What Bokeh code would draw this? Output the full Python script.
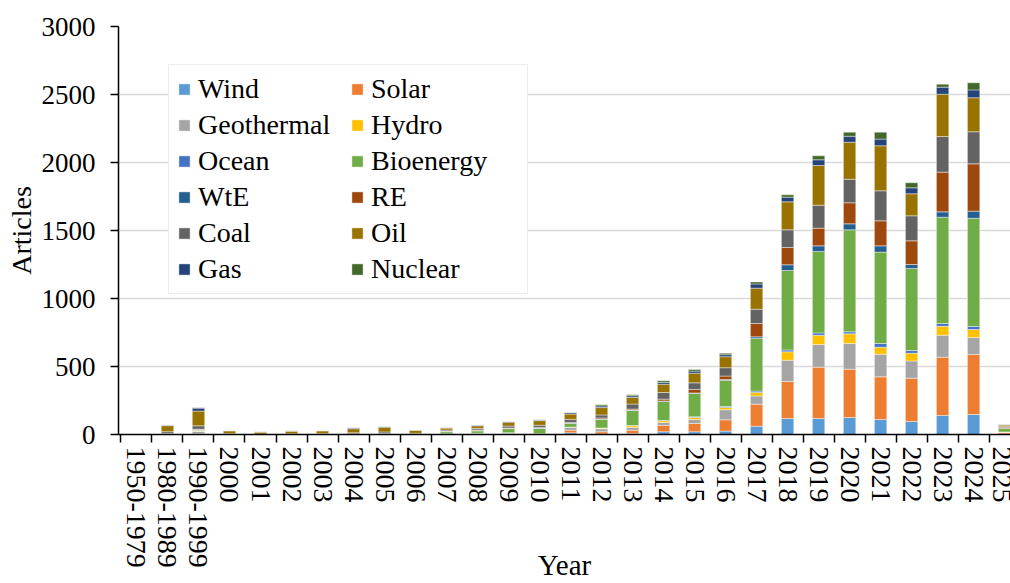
from bokeh.plotting import figure
from bokeh.models import (ColumnDataSource, Range1d, FixedTicker, Legend, LegendItem)
from bokeh.embed import file_html
from bokeh.resources import INLINE

categories = ["1950-1979", "1980-1989", "1990-1999", "2000", "2001", "2002", "2003",
              "2004", "2005", "2006", "2007", "2008", "2009", "2010", "2011", "2012",
              "2013", "2014", "2015", "2016", "2017", "2018", "2019", "2020", "2021",
              "2022", "2023", "2024", "2025"]

wind       = [0, 0, 2, 0, 0, 0, 0, 0, 0, 0, 0, 2, 2, 0, 12, 3, 7, 20, 20, 25, 61, 118, 118, 125, 110, 96, 140, 147, 4]
solar      = [0, 0, 4, 0, 0, 0, 0, 0, 1, 0, 2, 3, 6, 3, 20, 17, 25, 47, 61, 83, 162, 272, 377, 355, 314, 318, 428, 441, 10]
geothermal = [0, 3, 18, 1, 0, 1, 0, 1, 2, 0, 3, 4, 4, 3, 20, 22, 20, 22, 29, 74, 61, 156, 167, 189, 166, 127, 162, 125, 3]
hydro      = [0, 0, 3, 0, 0, 0, 0, 0, 0, 0, 0, 0, 1, 0, 2, 5, 12, 12, 15, 17, 25, 62, 68, 71, 52, 57, 66, 59, 2]
ocean      = [0, 0, 0, 0, 0, 0, 0, 0, 0, 0, 0, 0, 0, 0, 0, 1, 2, 2, 5, 7, 10, 14, 17, 15, 27, 19, 20, 22, 0]
bioenergy  = [0, 2, 6, 1, 0, 0, 1, 3, 2, 2, 15, 18, 30, 39, 29, 64, 111, 140, 172, 192, 387, 584, 599, 750, 672, 604, 782, 796, 25]
wte        = [0, 2, 3, 0, 0, 0, 1, 1, 0, 0, 2, 2, 2, 2, 2, 2, 3, 4, 4, 6, 12, 42, 41, 44, 46, 29, 39, 52, 1]
re         = [0, 0, 3, 0, 0, 0, 0, 0, 2, 1, 3, 5, 3, 4, 4, 8, 7, 13, 25, 26, 98, 127, 130, 155, 184, 174, 292, 348, 8]
coal       = [1, 14, 25, 5, 3, 5, 5, 8, 12, 6, 8, 10, 14, 17, 22, 22, 37, 49, 49, 61, 105, 130, 169, 173, 221, 184, 262, 236, 8]
oil        = [5, 44, 108, 20, 15, 19, 20, 30, 34, 22, 14, 20, 28, 34, 39, 54, 49, 61, 71, 81, 155, 206, 292, 272, 331, 162, 311, 250, 9]
gas        = [0, 4, 22, 2, 2, 2, 2, 6, 6, 3, 4, 5, 6, 4, 10, 12, 12, 13, 15, 15, 31, 34, 42, 44, 49, 44, 52, 58, 2]
nuclear    = [0, 0, 2, 0, 0, 0, 0, 0, 0, 0, 0, 0, 0, 2, 2, 8, 7, 12, 12, 11, 15, 17, 29, 30, 51, 37, 22, 52, 2]

series_names = ["Wind", "Solar", "Geothermal", "Hydro", "Ocean", "Bioenergy",
                "WtE", "RE", "Coal", "Oil", "Gas", "Nuclear"]
series_values = [wind, solar, geothermal, hydro, ocean, bioenergy, wte, re, coal, oil, gas, nuclear]
colors = ["#5B9BD5", "#ED7D31", "#A5A5A5", "#FFC000", "#4472C4", "#70AD47",
          "#255E91", "#9E480E", "#636363", "#997300", "#264478", "#43682B"]

FONT = "'Liberation Serif', 'Times New Roman', serif"

xs = list(range(len(categories)))
data = {"x": xs}
for name, vals in zip(series_names, series_values):
    data[name] = vals
source = ColumnDataSource(data)

p = figure(width=1010, height=583, output_backend="svg", toolbar_location=None,
           x_range=Range1d(-0.58, 28.19), y_range=Range1d(0, 3000),
           min_border_left=118, min_border_right=0, min_border_top=26, min_border_bottom=149)
p.outline_line_color = None
p.background_fill_color = "white"
p.border_fill_color = "white"

renderers = p.vbar_stack(series_names, x="x", width=0.4, color=colors, source=source,
                         line_color="white", line_width=0.6, line_alpha=0.7)

# y axis
p.yaxis.ticker = FixedTicker(ticks=[0, 500, 1000, 1500, 2000, 2500, 3000])
p.yaxis.axis_label = "Articles"
p.yaxis.axis_label_text_font = FONT
p.yaxis.axis_label_text_font_size = "28px"
p.yaxis.axis_label_text_font_style = "normal"
p.yaxis.axis_label_text_color = "black"
p.yaxis.axis_label_standoff = 2
p.yaxis.major_label_text_font = FONT
p.yaxis.major_label_text_font_size = "27px"
p.yaxis.major_label_text_color = "black"
p.yaxis.major_label_standoff = 15
p.yaxis.major_tick_out = 8
p.yaxis.major_tick_in = 0
p.yaxis.minor_tick_out = 0
p.yaxis.minor_tick_in = 0
p.yaxis.axis_line_color = "black"
p.yaxis.axis_line_width = 1.5
p.yaxis.major_tick_line_color = "black"
p.yaxis.major_tick_line_width = 1.5

# x axis
p.xaxis.ticker = FixedTicker(ticks=xs, minor_ticks=[i - 0.5 for i in range(len(categories) + 1)])
p.xaxis.major_label_overrides = {i: c for i, c in enumerate(categories)}
p.xaxis.major_label_orientation = "vertical"
p.xaxis.major_label_text_font = FONT
p.xaxis.major_label_text_font_size = "28px"
p.xaxis.major_label_text_color = "black"
p.xaxis.major_label_standoff = 4
p.xaxis.major_tick_out = 0
p.xaxis.major_tick_in = 0
p.xaxis.minor_tick_out = 8
p.xaxis.minor_tick_in = 0
p.xaxis.minor_tick_line_color = "black"
p.xaxis.minor_tick_line_width = 1.5
p.xaxis.axis_line_color = "black"
p.xaxis.axis_line_width = 1.5
p.xaxis.axis_label = "Year"
p.xaxis.axis_label_text_font = FONT
p.xaxis.axis_label_text_font_size = "29px"
p.xaxis.axis_label_text_font_style = "normal"
p.xaxis.axis_label_text_color = "black"
p.xaxis.axis_label_standoff = -22

p.xgrid.grid_line_color = None
p.ygrid.grid_line_color = "#D9D9D9"
p.ygrid.grid_line_width = 1.5

legend = Legend(items=[LegendItem(label=n, renderers=[r]) for n, r in zip(series_names, renderers)],
                location=(50, 140), orientation="horizontal", ncols=2)
legend.label_text_font = FONT
legend.label_text_font_size = "28px"
legend.label_text_color = "black"
legend.glyph_width = 14
legend.glyph_height = 14
legend.label_standoff = 7
legend.label_width = 148
legend.label_height = 32
legend.spacing = 4
legend.padding = 8
legend.margin = 0
legend.border_line_color = "#D9D9D9"
legend.border_line_width = 1
legend.background_fill_color = "white"
legend.background_fill_alpha = 1
p.add_layout(legend, "center")

open("out.html", "w").write(file_html(p, INLINE))
